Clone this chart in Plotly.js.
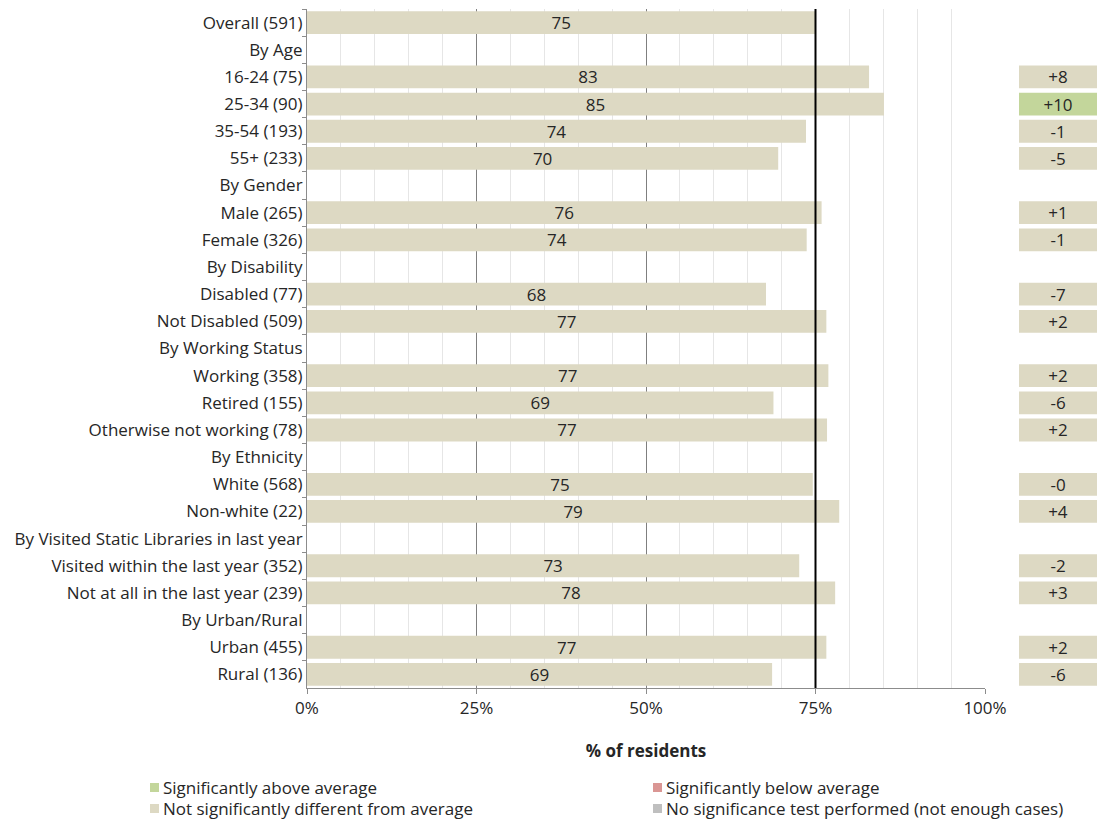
<!DOCTYPE html>
<html>
<head>
<meta charset="utf-8">
<script src="https://cdn.plot.ly/plotly-3.0.1.min.js"></script>
<style>html,body{margin:0;padding:0;background:#fff;}#chart{width:1100px;height:823px;}</style>
</head>
<body>
<div id="chart"></div>
<script>
// ---- data ----
const rowLabels = [
  "Overall (591)", "By Age", "16-24 (75)", "25-34 (90)", "35-54 (193)", "55+ (233)",
  "By Gender", "Male (265)", "Female (326)",
  "By Disability", "Disabled (77)", "Not Disabled (509)",
  "By Working Status", "Working (358)", "Retired (155)", "Otherwise not working (78)",
  "By Ethnicity", "White (568)", "Non-white (22)",
  "By Visited Static Libraries in last year", "Visited within the last year (352)", "Not at all in the last year (239)",
  "By Urban/Rural", "Urban (455)", "Rural (136)"
];
const values = [
  75.0, null, 82.9, 85.1, 73.6, 69.5,
  null, 75.9, 73.7,
  null, 67.7, 76.6,
  null, 76.9, 68.8, 76.7,
  null, 74.6, 78.5,
  null, 72.6, 77.9,
  null, 76.6, 68.6
];
const diffLabels = [
  null, null, "+8", "+10", "-1", "-5",
  null, "+1", "-1",
  null, "-7", "+2",
  null, "+2", "-6", "+2",
  null, "-0", "+4",
  null, "-2", "+3",
  null, "+2", "-6"
];
// significance: "above", "below", "none" (not significant), "untested"
const significance = [
  null, null, "none", "above", "none", "none",
  null, "none", "none",
  null, "none", "none",
  null, "none", "none", "none",
  null, "none", "none",
  null, "none", "none",
  null, "none", "none"
];
const xTickVals = [0, 25, 50, 75, 100];
const xTickText = ["0%", "25%", "50%", "75%", "100%"];
const legendLabels = {
  above: "Significantly above average",
  below: "Significantly below average",
  none: "Not significantly different from average",
  untested: "No significance test performed (not enough cases)"
};

// ---- styles ----
const sigColors = { above: "#C3D69B", below: "#DA9694", none: "#DDD9C3", untested: "#BFBFBF" };
const FONT = "'Open Sans', sans-serif";
const FS = 17;
const TXT = "#262626";

const W = 1100, H = 823;
const M = { l: 307, r: 3, t: 9, b: 135 };
const pw = W - M.l - M.r, ph = H - M.t - M.b;
const px2x = p => (p - M.l) / pw;
const py2y = p => (H - M.b - p) / ph;

const barText = values.map(v => v == null ? "" : String(Math.round(v)));
const boxOnes = diffLabels.map(d => d == null ? null : 1);
const boxColors = significance.map(s => s ? sigColors[s] : "rgba(0,0,0,0)");

const traces = [
  {
    type: "bar", orientation: "h",
    y: rowLabels, x: values,
    text: barText, textposition: "inside", insidetextanchor: "middle",
    constraintext: "none", textangle: 0,
    textfont: { family: FONT, size: FS, color: TXT },
    marker: { color: sigColors.none, line: { width: 0 } },
    hoverinfo: "skip", showlegend: false
  },
  {
    type: "bar", orientation: "h",
    y: rowLabels, x: boxOnes, xaxis: "x2", yaxis: "y",
    text: diffLabels, textposition: "inside", insidetextanchor: "middle",
    constraintext: "none", textangle: 0,
    textfont: { family: FONT, size: FS, color: TXT },
    marker: { color: boxColors, line: { width: 0 } },
    hoverinfo: "skip", showlegend: false
  }
];

const legendOrder = [
  ["above", 150, 787], ["below", 653, 787],
  ["none", 150, 808], ["untested", 653, 808]
];
const shapes = [
  { type: "line", xref: "x", yref: "paper", x0: values[0], x1: values[0], y0: 0, y1: 1,
    line: { color: "#000", width: 2 }, layer: "above" }
];
const annotations = [];
legendOrder.forEach(([k, xp, yp]) => {
  shapes.push({ type: "rect", xref: "paper", yref: "paper",
    x0: px2x(xp), x1: px2x(xp + 9), y0: py2y(yp + 5), y1: py2y(yp - 4),
    fillcolor: sigColors[k], line: { width: 0 } });
  annotations.push({ xref: "paper", yref: "paper", x: px2x(xp + 11), y: py2y(yp),
    xanchor: "left", yanchor: "middle", showarrow: false, text: legendLabels[k],
    font: { family: FONT, size: FS, color: TXT } });
});

const layout = {
  width: W, height: H,
  margin: M,
  paper_bgcolor: "#fff", plot_bgcolor: "#fff",
  font: { family: FONT, size: FS, color: TXT },
  showlegend: false,
  barmode: "overlay",
  bargap: 0.16,
  xaxis: {
    domain: [0, (985 - M.l) / pw],
    range: [0, 100], fixedrange: true,
    tickmode: "array", tickvals: xTickVals, ticktext: xTickText,
    showgrid: true, gridcolor: "#7f7f7f", gridwidth: 1,
    minor: { dtick: 5, tick0: 0, showgrid: true, gridcolor: "#E6E6E6", gridwidth: 1, ticks: "" },
    showline: true, linecolor: "#8c8c8c", linewidth: 1,
    ticks: "outside", ticklen: 5, tickcolor: "#8c8c8c",
    zeroline: false,
    tickfont: { family: FONT, size: FS, color: TXT },
    title: { text: "<b>% of residents</b>", standoff: 26, font: { family: FONT, size: FS, color: TXT } }
  },
  xaxis2: {
    domain: [(1019 - M.l) / pw, 1],
    range: [0, 1], visible: false, fixedrange: true
  },
  yaxis: {
    type: "category", categoryorder: "array", categoryarray: rowLabels,
    autorange: "reversed", fixedrange: true,
    showgrid: false, zeroline: false,
    showline: true, linecolor: "#8c8c8c", linewidth: 1,
    ticks: "outside", tickson: "boundaries", ticklen: 4, tickcolor: "#8c8c8c",
    tickfont: { family: FONT, size: FS, color: TXT }
  },
  shapes: shapes,
  annotations: annotations
};

Plotly.newPlot("chart", traces, layout, { staticPlot: true, displayModeBar: false });
</script>
</body>
</html>
